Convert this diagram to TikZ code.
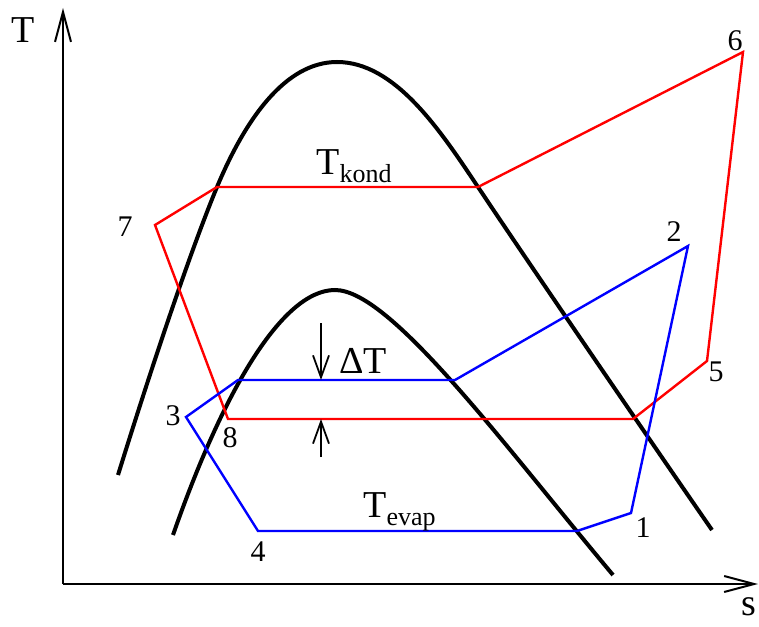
\documentclass[tikz,border=0pt]{standalone}
\usepackage{fontspec}
\setmainfont{Liberation Serif}
\usetikzlibrary{arrows.meta}
\tikzset{
  dome/.style={line width=2pt},
  kond/.style={red,line width=1.2pt},
  evap/.style={blue,line width=1.2pt},
  axis/.style={line width=1.3pt,-{Straight Barb[length=15pt,width=8pt,line width=1pt]}},
  dT/.style={line width=0.9pt,-{Straight Barb[length=11pt,width=8pt,line width=0.9pt]}},
  num/.style={font=\fontsize{15}{15}\selectfont,inner sep=0pt},
  lbl/.style={font=\fontsize{19}{19}\selectfont,inner sep=0pt},
}
\newcommand{\sub}[1]{\raisebox{-4pt}{\fontsize{13}{13}\selectfont #1}}

\begin{document}
\begin{tikzpicture}[x=0.5pt,y=-0.5pt]
  \useasboundingbox (0,0) rectangle (759,626);
  % axes
  \coordinate (O) at (63,584);
  \coordinate (Tend) at (63,8);
  \coordinate (send) at (758,584);
  \draw[axis] (O) -- (Tend);
  \draw[axis] (O) -- (send);
  \node[lbl] (Tlab) at (23,30) {T};
  \node[lbl] (slab) at (749,607) {s};
  % saturation domes
  \draw[dome] (118,475) .. controls (160,340) and (195,240) .. (217,187)
    .. controls (245,120) and (285,62) .. (337,62)
    .. controls (395,62) and (440,130) .. (478,187)
    .. controls (530,265) and (660,455) .. (712,530);
  \draw[dome] (173,535) .. controls (220,400) and (280,290) .. (335,290)
    .. controls (390,290) and (500,440) .. (613,575);
  % points of the cycles
  \coordinate (c1) at (631,513);
  \coordinate (c2) at (688,246);
  \coordinate (c3) at (186,417);
  \coordinate (c4) at (258,531);
  \coordinate (c5) at (707,361);
  \coordinate (c6) at (743,52);
  \coordinate (c7) at (155,225);
  \coordinate (c8) at (228,419);
  \coordinate (k1) at (217,187);
  \coordinate (k2) at (478,187);
  \coordinate (k3) at (633,419);
  \coordinate (e1) at (238,380);
  \coordinate (e2) at (455,380);
  \coordinate (e3) at (577,531);
  \draw[kond] (c7) -- (k1) -- (k2) -- (c6) -- (c5) -- (k3) -- (c8) -- cycle;
  \draw[evap] (c3) -- (e1) -- (e2) -- (c2) -- (c1) -- (e3) -- (c4) -- cycle;
  % temperature difference
  \coordinate (dTtop) at (321,323);
  \coordinate (dTbot) at (321,457);
  \draw[dT] (dTtop) -- (dTtop |- e1);
  \draw[dT] (dTbot) -- (dTbot |- c8);
  \node[lbl,anchor=base west] (dTlab) at (339,373) {ΔT};
  \node[lbl,anchor=base west] (Tkond) at (316,174) {T\sub{kond}};
  \node[lbl,anchor=base west] (Tevap) at (363,517) {T\sub{evap}};
  % labels of the points
  \node[num] (n1) at (643,528) {1};
  \node[num] (n2) at (674,232) {2};
  \node[num] (n3) at (173,416) {3};
  \node[num] (n4) at (258,552) {4};
  \node[num] (n5) at (716,372) {5};
  \node[num] (n6) at (735,41) {6};
  \node[num] (n7) at (125,227) {7};
  \node[num] (n8) at (230,438) {8};
\end{tikzpicture}
\end{document}
